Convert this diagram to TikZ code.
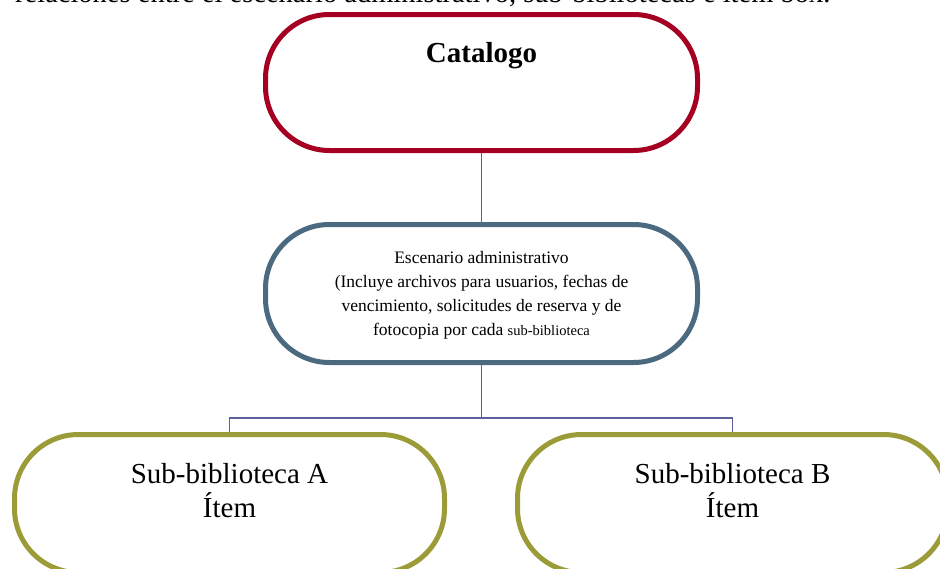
\documentclass[tikz,border=0pt]{standalone}
\usepackage{fontspec}
\setmainfont{Liberation Serif}
\usetikzlibrary{backgrounds}
\definecolor{catred}{RGB}{165,0,33}
\definecolor{escblue}{RGB}{75,106,128}
\definecolor{subolive}{RGB}{155,155,55}
\definecolor{connc}{RGB}{95,95,160}
\begin{document}
\begin{tikzpicture}[x=1pt,y=-1pt,
  box/.style={draw, line width=5pt, rounded corners=64pt, fill=white,
    minimum width=432pt, minimum height=138pt, inner sep=0pt},
  conn/.style={draw=connc, line width=1.4pt},
  bigtxt/.style={font=\fontsize{29}{34}\selectfont, align=center, inner sep=0pt},
  esctxt/.style={font=\fontsize{17.5}{24}\selectfont, align=center, inner sep=0pt}]
\useasboundingbox (0,0) rectangle (940,568);
\clip (0,0) rectangle (940,568);
\node[font=\fontsize{28.5}{32}\selectfont, anchor=base west, inner sep=0pt] (caption) at (15,2.5)
  {relaciones entre el escenario administrativo, sub-bibliotecas e ítem box.};
\node[box, draw=catred, minimum height=136pt] (cat) at (481.5,82.5) {};
\node[box, draw=escblue] (esc) at (481.5,293.5) {};
\node[box, draw=subolive, minimum width=430pt] (suba) at (229.5,503.5) {};
\node[box, draw=subolive, minimum width=430pt] (subb) at (732.5,503.5) {};
\coordinate (j) at (481.5,418);
\begin{scope}[on background layer]
  \draw[conn] (cat.south) -- (esc.north);
  \draw[conn] (esc.south) -- (j);
  \draw[conn] (suba.north) |- (j) -| (subb.north);
\end{scope}
\node[font=\fontsize{29}{34}\selectfont\bfseries, anchor=base, inner sep=0pt] (cattxt) at (481.5,62) {Catalogo};
\node[esctxt, anchor=base] (esctext) at (481.5,335)
  {Escenario administrativo\\(Incluye archivos para usuarios, fechas de\\vencimiento, solicitudes de reserva y de\\fotocopia por cada {\fontsize{14.5}{24}\selectfont sub-biblioteca}};
\node[bigtxt, anchor=base] (subatxt) at (229.5,517) {Sub-biblioteca A\\Ítem};
\node[bigtxt, anchor=base] (subbtxt) at (732.5,517) {Sub-biblioteca B\\Ítem};
\end{tikzpicture}
\end{document}
